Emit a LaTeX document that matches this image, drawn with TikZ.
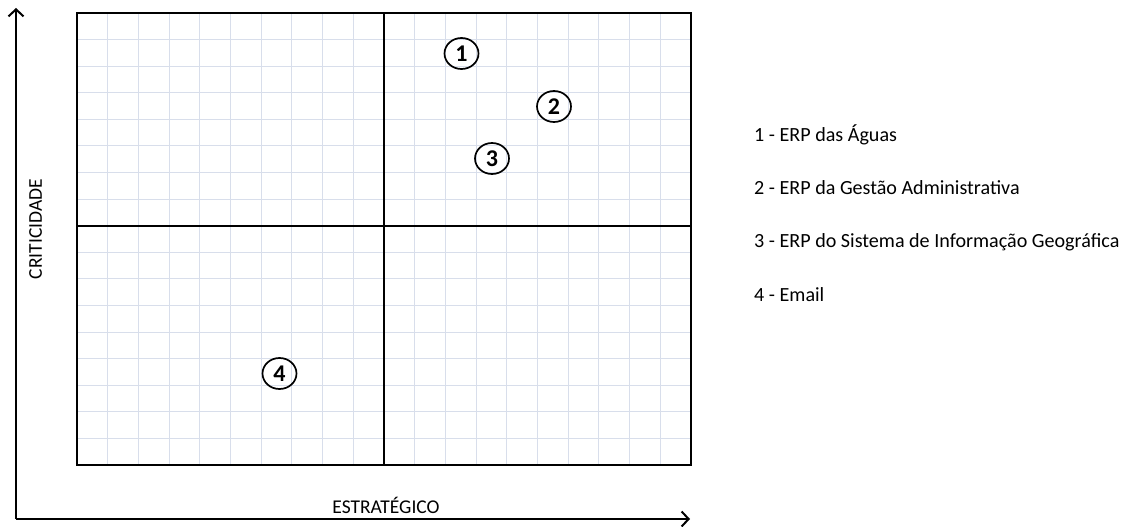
\documentclass[tikz,border=0pt]{standalone}
\usepackage{fontspec}
\setmainfont{Carlito}
\usetikzlibrary{arrows.meta,shapes.geometric}
\definecolor{gridc}{RGB}{216,222,235}
\tikzset{
  gridline/.style={draw=gridc, line width=1.1pt},
  frame/.style={draw=black, line width=2pt},
  axis/.style={draw=black, line width=2pt, -{Straight Barb[length=7pt,width=15pt,line width=2pt]}},
  markcirc/.style={draw=black, line width=1.7pt, ellipse, inner sep=0pt, minimum width=34pt, minimum height=31pt, font=\fontsize{24}{27}\selectfont\bfseries},
  legend/.style={anchor=west, font=\fontsize{20.1}{22}\selectfont, inner sep=0pt},
  axlabel/.style={font=\fontsize{19.5}{22}\selectfont, inner sep=0pt}
}
\begin{document}
\begin{tikzpicture}[x=1pt,y=-1pt]
\useasboundingbox (0,0) rectangle (1128,527);
% grid
\foreach \i in {1,...,19} {
  \draw[gridline] ({77+30.7*\i},13) -- ({77+30.7*\i},465);
}
\foreach \j in {1,...,16} {
  \draw[gridline] (77,{13+26.588*\j}) -- (691,{13+26.588*\j});
}
% quadrant lines
\coordinate (vt) at (384,13);
\coordinate (vb) at (384,465);
\coordinate (hl) at (77,225.7);
\coordinate (hr) at (691,225.7);
\draw[frame] (vt) -- (vb);
\draw[frame] (hl) -- (hr);
\draw[frame] (77,13) rectangle (691,465);
% axes
\coordinate (o) at (16,519);
\coordinate (ytip) at (16,8);
\coordinate (xtip) at (690,519);
\draw[axis] (o) -- (ytip);
\draw[axis] (o) -- (xtip);
\node[axlabel, rotate=90] (ylab) at (35.5,229) {CRITICIDADE};
\node[axlabel] (xlab) at (386,505) {ESTRATÉGICO};
% markers
\node[markcirc] (m1) at (461.5,53.5) {1};
\node[markcirc] (m2) at (554,106.5) {2};
\node[markcirc] (m3) at (492,158.5) {3};
\node[markcirc] (m4) at (279.5,373.5) {4};
% legend
\node[legend] (l1) at (754,135) {1 - ERP das Águas};
\node[legend] (l2) at (754,188) {2 - ERP da Gestão Administrativa};
\node[legend] (l3) at (754,242) {3 - ERP do Sistema de Informação Geográfica};
\node[legend] (l4) at (754,295) {4 - Email};
\end{tikzpicture}
\end{document}
